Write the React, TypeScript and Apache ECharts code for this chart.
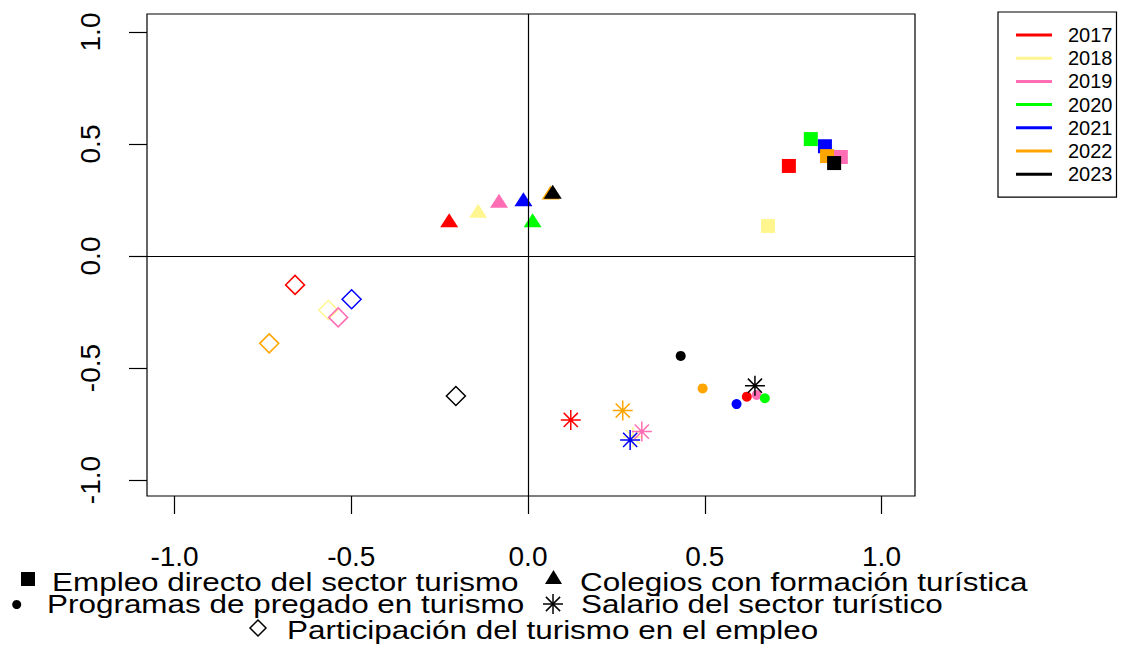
import React, { useEffect, useRef } from "react";
import * as echarts from "echarts";

const years = ["2017", "2018", "2019", "2020", "2021", "2022", "2023"];
const yearColors = ["#FF0000", "#FFF68F", "#FF6EB4", "#00FF00", "#0000FF", "#FFA500", "#000000"];

// Empleo directo del sector turismo (squares)
const empleoX = [0.738, 0.679, 0.885, 0.8, 0.84, 0.846, 0.866];
const empleoY = [0.402, 0.134, 0.442, 0.522, 0.49, 0.446, 0.415];
// Colegios con formación turística (triangles)
const colegiosX = [-0.223, -0.141, -0.082, 0.013, -0.013, 0.064, 0.07];
const colegiosY = [0.16, 0.202, 0.247, 0.16, 0.253, 0.283, 0.287];
// Programas de pregado en turismo (dots)
const programasX = [0.619, null, 0.647, 0.67, 0.59, 0.494, 0.432];
const programasY = [-0.628, null, -0.62, -0.635, -0.661, -0.591, -0.446];
// Salario del sector turístico (asterisks)
const salarioX = [0.121, 0.297, 0.322, null, 0.289, 0.268, 0.642];
const salarioY = [-0.732, -0.808, -0.784, null, -0.821, -0.69, -0.579];
// Participación del turismo en el empleo (open diamonds)
const participacionX = [-0.659, -0.565, -0.537, null, -0.499, -0.732, -0.204];
const participacionY = [-0.129, -0.241, -0.274, null, -0.193, -0.39, -0.625];

const tickValues = [-1, -0.5, 0, 0.5, 1];

const legendLabels = [
  "Empleo directo del sector turismo",
  "Colegios con formación turística",
  "Programas de pregado en turismo",
  "Salario del sector turístico",
  "Participación del turismo en el empleo",
];

const ASTERISK = "path://M0,-10L0,10M-10,0L10,0M-7.07,-7.07L7.07,7.07M-7.07,7.07L7.07,-7.07";
const FONT = "'Liberation Sans', Arial, sans-serif";

export default function App() {
  const ref = useRef<HTMLDivElement>(null);
  useEffect(() => {
    if (!ref.current) return;
    const chart = echarts.init(ref.current, null, { renderer: "svg" });

    const series: any[] = years.map((yr, i) => {
      const c = yearColors[i];
      const data: any[] = [];
      const push = (x: number | null, y: number | null, extra: any) => {
        if (x === null || y === null) return;
        data.push({ value: [x, y], ...extra });
      };
      push(empleoX[i], empleoY[i], { symbol: "rect", symbolSize: 14 });
      push(colegiosX[i], colegiosY[i], { symbol: "triangle", symbolSize: [18, 14] });
      push(programasX[i], programasY[i], { symbol: "circle", symbolSize: 10 });
      push(participacionX[i], participacionY[i], {
        symbol: "diamond",
        symbolSize: 19,
        itemStyle: { color: "rgba(0,0,0,0)", borderColor: c, borderWidth: 1.5 },
      });
      push(salarioX[i], salarioY[i], {
        symbol: ASTERISK,
        symbolSize: 20,
        itemStyle: { color: "rgba(0,0,0,0)", borderColor: c, borderWidth: 1.5 },
      });
      return {
        name: yr,
        type: "scatter",
        xAxisIndex: 0,
        yAxisIndex: 0,
        itemStyle: { color: c, opacity: 1 },
        emphasis: { disabled: true },
        data,
      };
    });

    series.push({
      type: "scatter",
      xAxisIndex: 0,
      yAxisIndex: 0,
      data: [],
      z: 10,
      markLine: {
        silent: true,
        symbol: ["none", "none"],
        label: { show: false },
        lineStyle: { color: "#000", width: 1.2, type: "solid" },
        data: [{ xAxis: 0 }, { yAxis: 0 }],
        z: 10,
      },
    });

    const textEl = (t: string, x: number, y: number) => ({
      type: "text",
      x,
      y,
      scaleX: 1.21,
      style: {
        text: t,
        x: 0,
        y: 0,
        fontSize: 26,
        fontFamily: FONT,
        fill: "#000",
        textAlign: "left",
        textVerticalAlign: "middle",
      },
    });

    const option: any = {
      animation: false,
      backgroundColor: "#fff",
      grid: [
        { left: 147, top: 14, width: 768, height: 482, show: true, borderColor: "#000", borderWidth: 1.2, backgroundColor: "transparent" },
        { left: 174.5, top: 32, width: 707, height: 448, show: false },
      ],
      xAxis: [
        { type: "value", gridIndex: 0, min: -1.0778, max: 1.0948, show: false },
        {
          type: "value",
          gridIndex: 1,
          min: tickValues[0],
          max: tickValues[tickValues.length - 1],
          interval: 0.5,
          position: "bottom",
          offset: 16,
          axisLine: { show: false, onZero: false },
          axisTick: { show: true, length: 18, lineStyle: { color: "#000", width: 1.2 } },
          splitLine: { show: false },
          axisLabel: { fontSize: 28, color: "#000", fontFamily: FONT, margin: 46, formatter: (v: number) => v.toFixed(1) },
        },
      ],
      yAxis: [
        { type: "value", gridIndex: 0, min: -1.0714, max: 1.0804, show: false },
        {
          type: "value",
          gridIndex: 1,
          min: tickValues[0],
          max: tickValues[tickValues.length - 1],
          interval: 0.5,
          position: "left",
          offset: 27.5,
          axisLine: { show: false, onZero: false },
          axisTick: { show: true, length: 18, lineStyle: { color: "#000", width: 1.2 } },
          splitLine: { show: false },
          axisLabel: { fontSize: 28, color: "#000", fontFamily: FONT, margin: 43, rotate: 90, formatter: (v: number) => v.toFixed(1) },
        },
      ],
      legend: {
        data: years,
        orient: "vertical",
        left: 998,
        top: 12,
        icon: "rect",
        itemWidth: 36,
        itemHeight: 3,
        itemGap: 3.2,
        selectedMode: false,
        borderColor: "#000",
        borderWidth: 1.2,
        borderRadius: 0,
        padding: [13, 4, 13, 18],
        textStyle: { fontSize: 20, lineHeight: 20, color: "#000", fontFamily: FONT, padding: [0, 0, 0, 11] },
      },
      graphic: [
        { type: "rect", shape: { x: 21, y: 572, width: 14, height: 14 }, style: { fill: "#000" } },
        textEl(legendLabels[0], 52, 581.5),
        { type: "polygon", shape: { points: [[545, 584], [562, 584], [553.5, 570]] }, style: { fill: "#000" } },
        textEl(legendLabels[1], 580, 581.5),
        { type: "circle", shape: { cx: 16.7, cy: 604.5, r: 4.5 }, style: { fill: "#000" } },
        textEl(legendLabels[2], 47, 604),
        { type: "line", shape: { x1: 553, y1: 594, x2: 553, y2: 614 }, style: { stroke: "#000", lineWidth: 1.5 } },
        { type: "line", shape: { x1: 543, y1: 604, x2: 563, y2: 604 }, style: { stroke: "#000", lineWidth: 1.5 } },
        { type: "line", shape: { x1: 545.9, y1: 596.9, x2: 560.1, y2: 611.1 }, style: { stroke: "#000", lineWidth: 1.5 } },
        { type: "line", shape: { x1: 545.9, y1: 611.1, x2: 560.1, y2: 596.9 }, style: { stroke: "#000", lineWidth: 1.5 } },
        textEl(legendLabels[3], 581, 604),
        { type: "polygon", shape: { points: [[258, 620], [266, 628], [258, 636], [250, 628]] }, style: { fill: "none", stroke: "#000", lineWidth: 1.5 } },
        textEl(legendLabels[4], 287, 630),
      ],
      series,
    };

    chart.setOption(option);
    return () => chart.dispose();
  }, []);

  return <div ref={ref} style={{ width: 1124, height: 648, position: "absolute", left: 0, top: 0 }} />;
}
